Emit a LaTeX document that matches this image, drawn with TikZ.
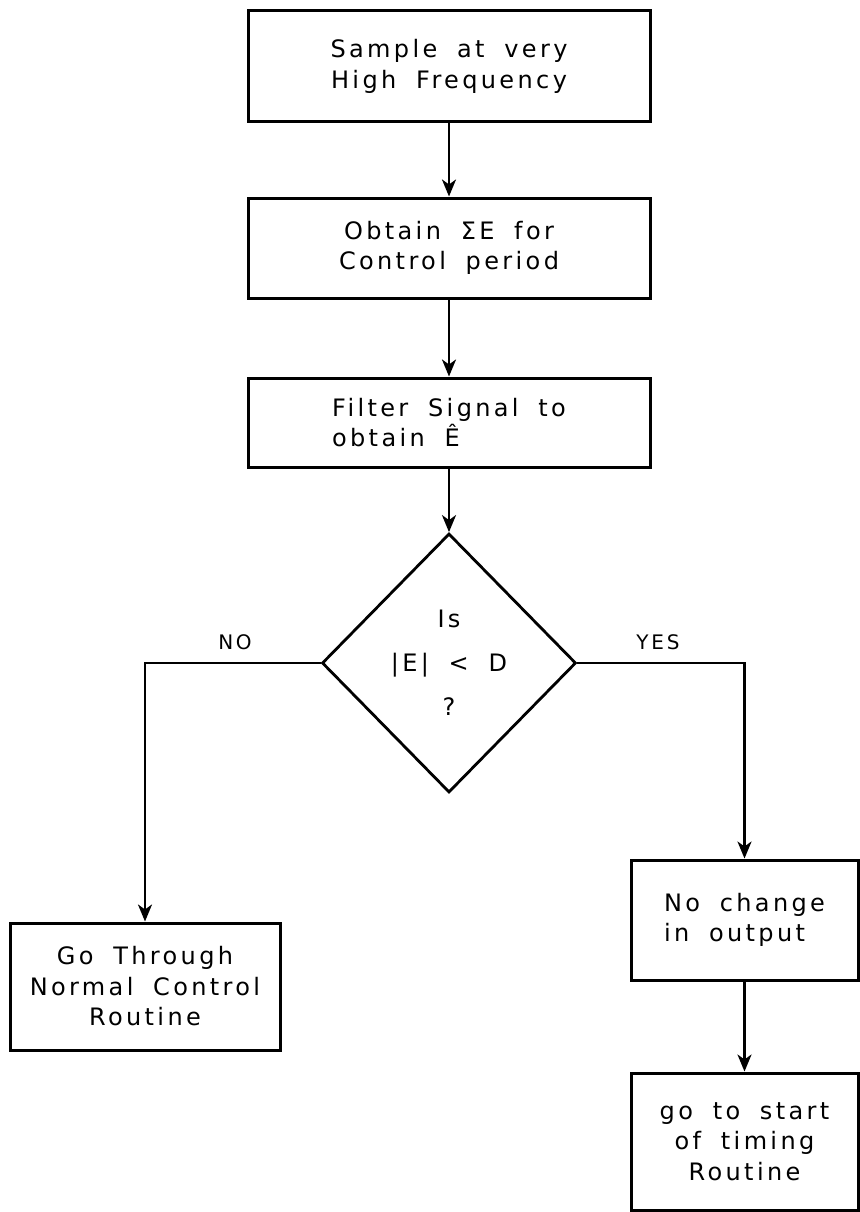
\documentclass[tikz,border=0pt]{standalone}
\usepackage{fontspec}
\setmainfont{DejaVu Sans}[LetterSpace=14,WordSpace=1.8]
\usetikzlibrary{shapes.geometric}
\usetikzlibrary{arrows.meta}

\begin{document}
\begin{tikzpicture}[x=1pt,y=-1pt,
  stepbox/.style={draw,line width=3pt,inner sep=0pt,align=center,font=\fontsize{24}{30.5}\selectfont},
  testbox/.style={draw,diamond,line width=2.8pt,inner sep=0pt,minimum width=254pt,minimum height=259pt,align=center,font=\fontsize{24}{44}\selectfont},
  flow/.style={line width=2.6pt,-{Stealth[length=17pt,width=14pt,inset=5pt]}},
  answer/.style={font=\fontsize{20}{22}\selectfont}]
\useasboundingbox (0,0) rectangle (859,1212);
\node[stepbox,minimum width=402pt,minimum height=111pt] (sample) at (449,66.5) {Sample at very\\High Frequency};
\node[stepbox,minimum width=402pt,minimum height=100pt] (obtain) at (449,248) {Obtain ΣE for\\Control period};
\node[stepbox,minimum width=402pt,minimum height=89pt,align=left] (filter) at (449,422.5) {Filter Signal to\\obtain Ê};
\node[testbox] (test) at (449,663) {Is\\|E| < D\\?};
\node[stepbox,minimum width=270pt,minimum height=127pt] (normal) at (145,986.5) {Go Through\\Normal Control\\Routine};
\node[stepbox,minimum width=227pt,minimum height=120pt,align=left] (nochange) at (744.5,920) {No change\\in output};
\node[stepbox,minimum width=227pt,minimum height=137pt] (gostart) at (744.5,1141.5) {go to start\\of timing\\Routine};
\node[answer] (no) at (235,642) {NO};
\node[answer] (yes) at (658,642) {YES};
\draw[flow] (sample) -- (obtain);
\draw[flow] (obtain) -- (filter);
\draw[flow] (filter) -- (test);
\draw[flow] (test.west) -| (normal.north);
\draw[flow] (test.east) -| (nochange.north);
\draw[flow] (nochange) -- (gostart);
\end{tikzpicture}
\end{document}
